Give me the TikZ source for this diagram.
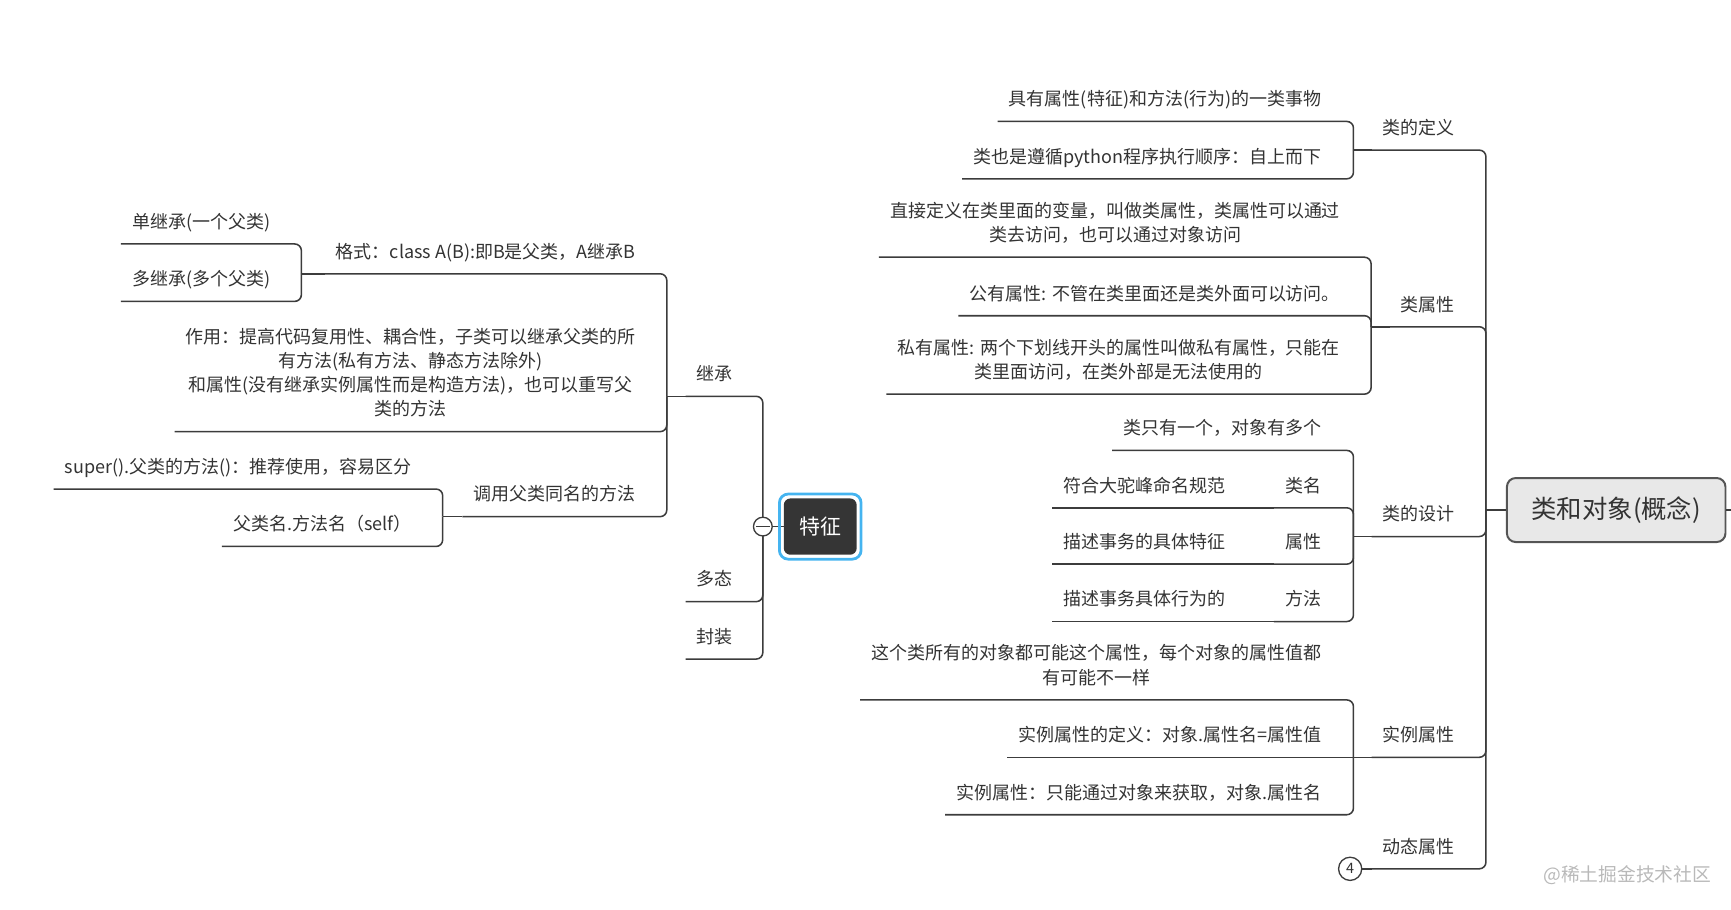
\documentclass[tikz,border=0pt]{standalone}
\usepackage{fontspec}
\usepackage{tikz}
\usetikzlibrary{positioning,calc}
\newfontfamily\cjk{Noto Sans CJK SC}
\definecolor{ink}{HTML}{333333}
\definecolor{wire}{HTML}{3C3C3C}
\definecolor{rootfill}{HTML}{E8E8E8}
\definecolor{rootline}{HTML}{555555}
\definecolor{darkbox}{HTML}{353535}
\definecolor{selblue}{HTML}{45B4F0}

\begin{document}
\begin{tikzpicture}[x=1pt,y=-1pt,
    every node/.style={font=\cjk\fontsize{16.3}{22}\selectfont,text=ink},
    topic/.style={anchor=south east,inner xsep=10pt,inner ysep=10pt,text depth=4pt,align=center},
    conn/.style={draw=wire,line width=1.4pt,rounded corners=6pt},
    root/.style={draw=rootline,line width=1.8pt,fill=rootfill,rounded corners=8pt,minimum width=198pt,minimum height=58pt,font=\cjk\fontsize{23}{26}\selectfont},
    feat/.style={fill=darkbox,text=white,rounded corners=6pt,minimum width=66pt,minimum height=51pt,font=\cjk\fontsize{19}{22}\selectfont},
    fold/.style={circle,draw=wire,line width=1.2pt,fill=white,minimum size=17pt,inner sep=0pt},
    more/.style={circle,draw=wire,line width=1.2pt,fill=white,minimum size=21pt,inner sep=0pt,font=\cjk\fontsize{13}{14}\selectfont}]
\useasboundingbox (0,0) rectangle (1568,824);

%% central topic and its trunk
\node[root] (root) at (1464,462) {类和对象(概念)};
\coordinate (rj) at (1346,462);
\coordinate (far) at (1568,462);

%% first level on the right, placed by hand
\node[topic] (def) at (1328,136) {类的定义};
\node[topic] (cattr) at (1328,296) {类属性};
\node[topic] (design) at (1328,486) {类的设计};
\node[topic] (inst) at (1328,686) {实例属性};
\node[topic] (dyn) at (1328,787) {动态属性};
\coordinate (defj) at (1226,136);
\coordinate (cattrj) at (1242,296);
\coordinate (designj) at (1226,486);
\coordinate (instj) at (1226,686);
\coordinate (dynj) at (1223,787);

%% second level on the right
\node[topic] (d1) at (1207,110) {具有属性(特征)和方法(行为)的一类事物};
\node[topic] (d2) at (1207,162) {类也是遵循python程序执行顺序：自上而下};
\node[topic] (a1) at (1224,233) {直接定义在类里面的变量，叫做类属性，类属性可以通过\\类去访问，也可以通过对象访问};
\node[topic] (a2) at (1224,286) {公有属性: 不管在类里面还是类外面可以访问。};
\node[topic] (a3) at (1224,357) {私有属性: 两个下划线开头的属性叫做私有属性，只能在\\类里面访问，在类外部是无法使用的};
\node[topic] (s1) at (1207,408) {类只有一个，对象有多个};
\node[topic] (s2) at (1207,460) {类名};
\node[topic] (s3) at (1207,511) {属性};
\node[topic] (s4) at (1207,563) {方法};
\node[topic] (t2) at (1120,460) {符合大驼峰命名规范};
\node[topic] (t3) at (1120,511) {描述事务的具体特征};
\node[topic] (t4) at (1120,563) {描述事务具体行为的};
\node[topic] (i1) at (1207,634) {这个类所有的对象都可能这个属性，每个对象的属性值都\\有可能不一样};
\node[topic] (i2) at (1207,686) {实例属性的定义：对象.属性名=属性值};
\node[topic] (i3) at (1207,738) {实例属性：只能通过对象来获取，对象.属性名};

%% the left part
\node[feat] (feat) at (743,477) {特征};
\coordinate (featj) at (691,477);
\node[topic] (inh) at (674,359) {继承};
\node[topic] (poly) at (674,545) {多态};
\node[topic] (enc) at (674,597) {封装};
\coordinate (inhj) at (604,359);
\node[topic] (fmt) at (586,248) {格式：class A(B):即B是父类，A继承B};
\node[topic] (role) at (586,391) {作用：提高代码复用性、耦合性，子类可以继承父类的所\\有方法(私有方法、静态方法除外)\\和属性(没有继承实例属性而是构造方法)，也可以重写父\\类的方法};
\node[topic] (call) at (586,468) {调用父类同名的方法};
\coordinate (fmtj) at (273,248);
\node[topic] (single) at (255,221) {单继承(一个父类)};
\node[topic] (multi) at (255,273) {多继承(多个父类)};
\coordinate (callj) at (401,468);
\node[topic] (sup) at (383,443) {super().父类的方法()：推荐使用，容易区分};
\node[topic] (byname) at (383,495) {父类名.方法名（self）};

%% connectors on the right
\draw[conn] (root.west) -- (rj);
\draw[conn] (root.east) -- (far);
\foreach \n in {def,cattr,design,inst,dyn}{
    \draw[conn] (rj) |- (\n.south west);
    }
\draw[conn] (def.south west) -- (defj);
\draw[conn] (cattr.south west) -- (cattrj);
\draw[conn] (design.south west) -- (designj);
\draw[conn] (inst.south west) -- (instj);
\draw[conn] (dyn.south west) -- (dynj);
\foreach \n in {d1,d2}{\draw[conn] (defj) |- (\n.south west);}
\foreach \n in {a1,a2,a3}{\draw[conn] (cattrj) |- (\n.south west);}
\foreach \n in {s1,s2,s3,s4}{\draw[conn] (designj) |- (\n.south west);}
\foreach \p/\q in {s2/t2,s3/t3,s4/t4}{\draw[conn] (\p.south west) -- (\q.south west);}
\foreach \n in {i1,i3}{\draw[conn] (instj) |- (\n.south west);}
\draw[conn] (instj) -- (i2.south west);

%% connectors on the left
\foreach \n in {inh,poly,enc}{\draw[conn] (featj) |- (\n.south west);}
\draw[conn] (inh.south west) -- (inhj);
\foreach \n in {fmt,role,call}{\draw[conn] (inhj) |- (\n.south west);}
\draw[conn] (fmt.south west) -- (fmtj);
\foreach \n in {single,multi}{\draw[conn] (fmtj) |- (\n.south west);}
\draw[conn] (call.south west) -- (callj);
\foreach \n in {sup,byname}{\draw[conn] (callj) |- (\n.south west);}

%% fold markers and selection frame
\node[fold] (fold) at (featj) {};
\draw[wire,line width=1.2pt] ([xshift=3pt]fold.west) -- ([xshift=-3pt]fold.east);
\draw[conn] (fold) -- (feat);
\draw[selblue,line width=2.5pt,rounded corners=8pt] ([shift={(-3.8pt,3.8pt)}]feat.north west) rectangle ([shift={(3.8pt,-3.8pt)}]feat.south east);
\node[more] (more) at (dynj) {4};

\node[text=gray!55,font=\cjk\fontsize{17}{20}\selectfont] (mark) at (1474,793) {@稀土掘金技术社区};
\end{tikzpicture}
\end{document}
